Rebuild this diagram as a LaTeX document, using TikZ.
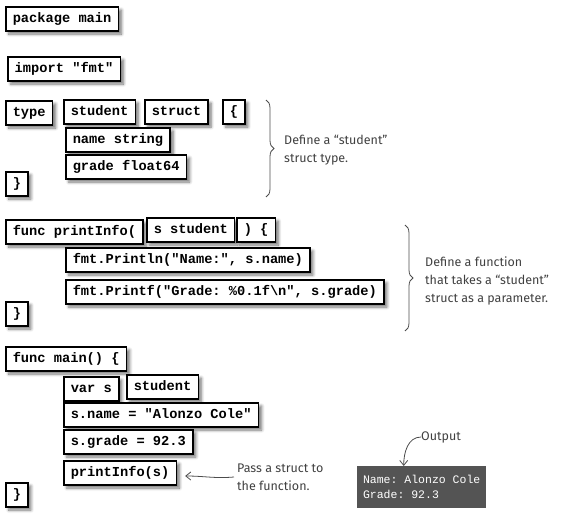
\documentclass[tikz,border=0pt]{standalone}
\usepackage{fontspec}
\setmonofont{Liberation Mono}
\newfontfamily\handfont{Fira Sans}
\usetikzlibrary{shadows.blur,decorations.pathreplacing,arrows.meta}
\begin{document}
\begin{tikzpicture}[x=1pt,y=-1pt,
  codebox/.style={draw=black, line width=1.5pt, fill=white, inner xsep=7pt, inner ysep=0pt,
    minimum height=24pt, text height=10pt, text depth=3pt, anchor=west,
    font=\ttfamily\bfseries\fontsize{13.7}{16}\selectfont,
    blur shadow={shadow xshift=3pt, shadow yshift=-3pt, shadow blur steps=6, shadow blur radius=3pt, shadow opacity=55}},
  note/.style={font=\handfont\fontsize{12.5}{18}\selectfont, text=black!75, align=left, anchor=west, inner sep=0pt},
  bracestyle/.style={draw=black!70, line width=0.8pt, decorate, decoration={brace, amplitude=8pt}},
  notearrow/.style={draw=black!70, line width=0.8pt, -{Straight Barb[length=5pt,width=8pt]}},
  outbox/.style={fill=black!67, text=white, anchor=north west, minimum width=129pt, minimum height=42pt,
    inner xsep=5pt, align=left, font=\ttfamily\fontsize{11.5}{15}\selectfont}
]
\useasboundingbox (0,0) rectangle (566,522);

\node[codebox] (pkg) at (5,19) {package main};
\node[codebox] (imp) at (7,69) {import "fmt"};

\node[codebox] (type) at (5,113) {type};
\node[codebox] (stu) at (63,112) {student};
\node[codebox] (struct) at (144,112) {struct};
\node[codebox] (lb1) at (222,112) {\{};
\node[codebox] (fname) at (65,140) {name string};
\node[codebox] (fgrade) at (65,167) {grade float64};
\node[codebox] (rb1) at (5,184) {\}};

\node[codebox] (func1) at (5,232) {func printInfo(};
\node[codebox] (param) at (146,230) {s student};
\node[codebox] (lb2) at (236,230) {) \{};
\node[codebox] (println) at (65,260) {fmt.Println("Name:", s.name)};
\node[codebox] (printf) at (65,292) {fmt.Printf("Grade: \%0.1f\textbackslash n", s.grade)};
\node[codebox] (rb2) at (5,314) {\}};

\node[codebox] (main) at (5,359) {func main() \{};
\node[codebox] (vars) at (63,389) {var s};
\node[codebox] (stu2) at (126,387) {student};
\node[codebox] (setname) at (63,415) {s.name = "Alonzo Cole"};
\node[codebox] (setgrade) at (63,442) {s.grade = 92.3};
\node[codebox] (call) at (63,473) {printInfo(s)};
\node[codebox] (rb3) at (5,495) {\}};

% braces and notes
\coordinate (b1t) at (266,100);
\coordinate (b1b) at (266,197);
\draw[bracestyle] (b1t) -- (b1b);
\node[note] (n1) at (284,150) {Define a “student”\\struct type.};

\coordinate (b2t) at (405,225);
\coordinate (b2b) at (405,331);
\draw[bracestyle] (b2t) -- (b2b);
\node[note] (n2) at (425,281) {Define a function\\that takes a “student”\\struct as a parameter.};

% pass note
\node[note] (n3) at (237,477) {Pass a struct to\\the function.};
\draw[notearrow] (n3.west) ++(-3,0) coordinate (n3s) to[out=185,in=0] ($(call.east)+(8,3)$);

% output
\node[outbox] (out) at (357,466) {Name: Alonzo Cole\\Grade: 92.3};
\node[note] (n4) at (421,437) {Output};
\draw[notearrow] (n4.west) to[out=180,in=90] ([xshift=-18pt]out.north);
\end{tikzpicture}
\end{document}
